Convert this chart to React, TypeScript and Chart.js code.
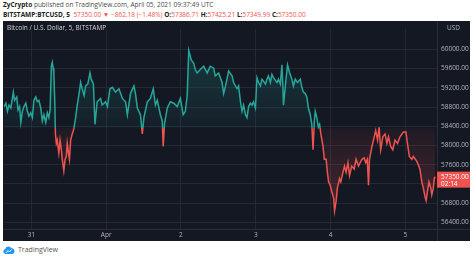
import React, { useEffect, useRef } from 'react';
import { Chart, registerables } from 'chart.js';

Chart.register(...registerables);

// Time in hours since 31 Mar 2021 00:00 UTC
const hours = [
  -8.8, -8.2, -7.7, -7.2, -6.6, -5.8, -5.4, -4.7, -4.3, -3.8, -3.4, -2.9, -2.4, -1.8, -1.3, -0.8, -0.2,
  0.3, 0.8, 1.4, 1.9, 2.4, 3.0, 3.5, 4.0, 4.6, 5.1, 5.6, 6.0, 6.4, 6.7, 7.0, 7.2, 7.5, 7.7, 8.0, 8.3,
  8.8, 9.2, 9.6, 9.9, 10.4, 10.8, 11.2, 11.5, 11.9, 12.2, 12.6, 13.1, 13.6, 14.2, 14.7, 15.3, 15.8,
  16.3, 16.9, 17.4, 18.1, 18.8, 19.2, 19.9, 20.4, 20.8, 21.1, 22.2, 22.7, 23.8, 24.4, 25.2, 26.0,
  27.0, 28.1, 29.2, 30.2, 30.8, 31.8, 32.9, 33.4, 34.0, 35.0, 35.6, 36.1, 37.2, 38.2, 39.1, 39.8,
  40.4, 41.4, 42.0, 42.3, 42.7, 43.6, 44.6, 45.7, 46.8, 47.8, 48.7, 49.4, 50.0, 50.5, 51.3, 52.1,
  52.6, 53.2, 54.2, 55.3, 56.4, 57.4, 58.5, 59.0, 60.1, 61.2, 61.7, 62.3, 63.3, 64.4, 64.9, 66.0,
  66.5, 67.1, 67.6, 68.1, 68.7, 69.2, 69.7, 70.3, 70.8, 71.3, 71.9, 72.4, 72.9, 73.5, 74.0, 75.1,
  75.6, 76.1, 76.7, 77.2, 77.7, 78.8, 79.3, 79.9, 80.4, 80.7, 80.9, 81.5, 82.2, 82.9, 83.6, 84.1,
  84.7, 85.4, 86.3, 86.8, 87.3, 87.9, 88.4, 88.9, 89.5, 90.0, 90.4, 90.8, 91.1, 91.6, 92.1, 92.5,
  92.9, 93.6, 94.0, 94.6, 95.0, 95.4, 95.9, 96.4, 97.0, 97.3, 97.8, 98.2, 98.9, 99.3, 100.0, 100.5,
  101.0, 101.6, 102.1, 102.8, 103.6, 104.2, 105.0, 105.5, 106.1, 106.8, 107.3, 107.8, 108.2, 108.5,
  109.3, 109.8, 110.5, 111.1, 111.6, 112.1, 112.8, 113.5, 114.1, 114.6, 115.3, 116.0, 116.7, 117.5,
  118.3, 119.4, 120.2, 120.7, 121.3, 122.1, 122.6, 123.7, 124.7, 125.3, 125.8, 126.3, 126.7, 127.1,
  127.6, 128.2, 128.5, 129.0, 129.3, 129.6,
];

// BTC/USD price (5-minute closes, sampled)
const prices = [
  58810, 58880, 58710, 58840, 58780, 59110, 58940, 59010, 58740, 58810, 58480, 58710, 58810, 58880, 58710, 58610, 58680,
  58580, 58940, 59010, 58910, 58940, 58780, 58510, 58640, 58480, 58680, 58580, 58740, 59650, 59730, 59610, 59510, 58910, 58240, 58040, 58110,
  57840, 58110, 57910, 57710, 57470, 57710, 57770, 58040, 57840, 57710, 58110, 58240, 58340, 58580, 58840, 59080, 59310,
  59180, 59040, 59240, 59280, 59510, 59380, 59280, 58440, 58710, 58910, 58980, 58840, 58910, 58810, 59180, 59210,
  59110, 59180, 58980, 58910, 58640, 59080, 59240, 59080, 58780, 58640, 58240, 58580, 58910, 58980, 59180, 58840,
  58940, 58640, 58510, 57980, 58440, 58780, 58910, 58880, 58810, 58980, 58640, 58710, 59040, 59980, 59780, 59710,
  59580, 59510, 59580, 59650, 59510, 59650, 59610, 59450, 59510, 59310, 59080, 59240, 59550, 59450, 59310, 59180,
  59240, 58910, 58710, 58840, 58640, 58580, 58810, 58880, 58840, 58910, 58780, 59410, 59310, 59240, 59380, 59280,
  59380, 59450, 59310, 59480, 59410, 59310, 59380, 59280, 59680, 59240, 58840, 59240, 59680, 59510, 59380, 59240,
  59380, 59310, 59380, 59210, 59110, 59080, 59010, 58780, 58640, 58440, 57910, 58510, 58710, 58580, 58380, 58440,
  58240, 57980, 57710, 57710, 57440, 57240, 57170, 57040, 56900, 56640, 56840, 57110, 57310, 57240, 57440, 57570,
  57440, 57640, 57370, 57570, 57510, 57710, 57570, 57640, 57710, 57740, 57640, 57710, 57170, 57710,
  57980, 58110, 58310, 58110, 58380, 57910, 58180, 58240, 58040, 58180, 57980, 57910, 58110, 58040,
  58180, 58280, 58280, 58040, 57770, 57710, 57770, 57670, 57510, 57240, 57110, 56940, 56850, 57040,
  57240, 57110, 56970, 57110, 57310, 57350,
];

const baseline = 58360;
const yTicks = [56400, 56800, 57200, 57600, 58000, 58400, 58800, 59200, 59600, 60000];
const xTickHours = [0, 24, 48, 72, 96, 120];
const xTickLabels = ['31', 'Apr', '2', '3', '4', '5'];
const lastPrice = 57350;
const countdown = '02:14';
const legendText = 'Bitcoin / U.S. Dollar, 5, BITSTAMP';
const currencyText = 'USD';

const TEAL = 'rgb(38,166,154)';
const RED = 'rgb(239,83,80)';
const FONT = '"Open Sans", "Noto Sans", sans-serif';
const GRID = 'rgba(42,46,57,0.75)';
const AXIS_TEXT = '#b2b5be';

function lineGradient(chart: any) {
  const { ctx, chartArea, scales } = chart;
  if (!chartArea) return TEAL;
  const top = chartArea.top;
  const bottom = chartArea.bottom;
  const b = scales.y.getPixelForValue(baseline);
  const f = Math.min(1, Math.max(0, (b - top) / (bottom - top)));
  const g = ctx.createLinearGradient(0, top, 0, bottom);
  g.addColorStop(0, TEAL);
  g.addColorStop(f, TEAL);
  g.addColorStop(f, RED);
  g.addColorStop(1, RED);
  return g;
}

const overlay = {
  id: 'overlay',
  afterDraw(chart: any) {
    const { ctx, chartArea, scales, width, height } = chart;
    ctx.save();
    // axis separators
    ctx.strokeStyle = '#2a2e39';
    ctx.lineWidth = 1;
    ctx.beginPath();
    ctx.moveTo(Math.round(chartArea.right) + 0.5, 0);
    ctx.lineTo(Math.round(chartArea.right) + 0.5, height);
    ctx.moveTo(0, Math.round(chartArea.bottom) + 0.5);
    ctx.lineTo(width, Math.round(chartArea.bottom) + 0.5);
    ctx.stroke();
    // legend
    ctx.font = `6.5px ${FONT}`;
    ctx.fillStyle = '#d1d4dc';
    ctx.textBaseline = 'middle';
    ctx.textAlign = 'left';
    ctx.fillText(legendText, 4, 7);
    // currency label
    ctx.fillStyle = AXIS_TEXT;
    ctx.textAlign = 'center';
    ctx.fillText(currencyText, (chartArea.right + width) / 2, 7);
    // last price label
    const py = scales.y.getPixelForValue(lastPrice);
    ctx.fillStyle = RED;
    ctx.fillRect(chartArea.right, py - 5, width - chartArea.right, 16);
    ctx.fillStyle = '#ffffff';
    ctx.textAlign = 'left';
    ctx.fillText(lastPrice.toFixed(2), chartArea.right + 4, py);
    ctx.fillText(countdown, chartArea.right + 4, py + 7);
    ctx.restore();
  },
};

export default function App() {
  const ref = useRef<HTMLCanvasElement>(null);

  useEffect(() => {
    document.body.style.margin = '0';
    const canvas = ref.current;
    if (!canvas) return;
    const chart = new Chart(canvas, {
      type: 'line',
      data: {
        datasets: [
          {
            data: hours.map((h, i) => ({ x: h, y: prices[i] })),
            borderWidth: 1.5,
            pointRadius: 0,
            tension: 0,
            borderColor: (c: any) => lineGradient(c.chart),
            fill: { target: { value: baseline }, above: 'rgba(38,166,154,0.1)', below: 'rgba(239,83,80,0.1)' },
          } as any,
        ],
      },
      options: {
        animation: false,
        responsive: false,
        maintainAspectRatio: false,
        layout: { padding: 0 },
        plugins: { legend: { display: false }, tooltip: { enabled: false } },
        scales: {
          x: {
            type: 'linear',
            min: -8.88,
            max: 130.18,
            afterBuildTicks: (s: any) => {
              s.ticks = xTickHours.map((v) => ({ value: v }));
            },
            afterFit: (s: any) => {
              s.height = 12;
            },
            ticks: {
              callback: (_v: any, i: number) => xTickLabels[i],
              color: AXIS_TEXT,
              font: { size: 6.5, family: FONT },
              padding: 2,
              maxRotation: 0,
              autoSkip: false,
            },
            grid: { color: GRID, drawTicks: false },
            border: { display: false },
          },
          y: {
            position: 'right',
            min: 56260,
            max: 60427,
            afterBuildTicks: (s: any) => {
              s.ticks = yTicks.map((v) => ({ value: v }));
            },
            afterFit: (s: any) => {
              s.width = 33;
            },
            ticks: {
              callback: (v: any) => Number(v).toFixed(2),
              color: AXIS_TEXT,
              font: { size: 6.5, family: FONT },
              padding: 4,
              autoSkip: false,
            },
            grid: { color: GRID, drawTicks: false },
            border: { display: false },
          },
        },
      } as any,
      plugins: [overlay],
    });

    const { chartArea, scales, ctx } = chart as any;
    const b = scales.y.getPixelForValue(baseline);
    const above = ctx.createLinearGradient(0, chartArea.top, 0, b);
    above.addColorStop(0, 'rgba(38,166,154,0.28)');
    above.addColorStop(1, 'rgba(38,166,154,0.05)');
    const below = ctx.createLinearGradient(0, b, 0, chartArea.bottom);
    below.addColorStop(0, 'rgba(239,83,80,0.05)');
    below.addColorStop(1, 'rgba(239,83,80,0.28)');
    (chart.data.datasets[0] as any).fill = { target: { value: baseline }, above, below };
    chart.update('none');

    return () => chart.destroy();
  }, []);

  const red = { color: '#ef5350' };
  return (
    <div
      style={{
        position: 'absolute',
        left: 0,
        top: 0,
        width: 474,
        height: 259,
        background: '#ffffff',
        overflow: 'hidden',
        fontFamily: FONT,
      }}
    >
      <div style={{ position: 'absolute', left: 3, top: 0, fontSize: 6.5, lineHeight: '10px', color: '#4a4a4a', whiteSpace: 'nowrap' }}>
        <b style={{ color: '#222' }}>ZyCrypto</b> published on TradingView.com, April 05, 2021 09:37:49 UTC
      </div>
      <div style={{ position: 'absolute', left: 3, top: 10, fontSize: 6.5, lineHeight: '10px', color: '#222', whiteSpace: 'nowrap' }}>
        <b>BITSTAMP:BTCUSD, 5</b>&nbsp; <span style={red}>57350.00</span> <span style={red}>▼</span>{' '}
        <span style={red}>−862.18 (−1.48%)</span> <b>O:</b>
        <span style={red}>57386.71</span> <b>H:</b>
        <span style={red}>57425.21</span> <b>L:</b>
        <span style={red}>57349.99</span> <b>C:</b>
        <span style={red}>57350.00</span>
      </div>
      <div style={{ position: 'absolute', left: 3, top: 21, width: 467, height: 220, background: '#141823' }}>
        <canvas ref={ref} width={467} height={220} style={{ display: 'block', width: 467, height: 220 }} />
      </div>
      <div style={{ position: 'absolute', left: 3, top: 245, display: 'flex', alignItems: 'center', fontSize: 7, color: '#555' }}>
        <svg width="12" height="8" viewBox="0 0 12 8" style={{ marginRight: 3 }}>
          <path d="M2.5 8 A2.5 2.5 0 0 1 2.2 3.1 A3.3 3.3 0 0 1 8.4 2.3 A2.9 2.9 0 0 1 9.3 8 Z" fill="#2196f3" />
          <path d="M3 7 L5 4.5 L6.5 6 L8.5 3.5" stroke="#ffffff" strokeWidth="0.9" fill="none" />
        </svg>
        <span>TradingView</span>
      </div>
    </div>
  );
}
